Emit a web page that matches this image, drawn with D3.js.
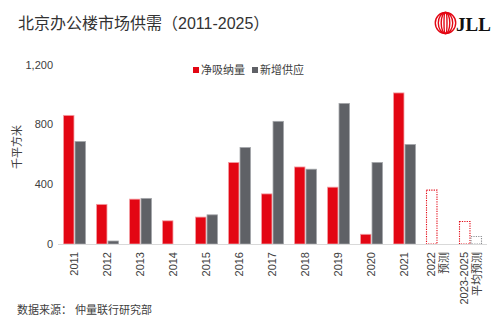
<!DOCTYPE html>
<html>
<head>
<meta charset="utf-8">
<script src="https://cdn.jsdelivr.net/npm/d3@7"></script>
<style>
  body { margin: 0; background: #fff; }
  svg { display: block; }
  text { font-family: "Liberation Sans", "Noto Sans CJK SC", sans-serif; fill: #404040; }
</style>
</head>
<body>
<div id="chart"></div>
<script>
// chart data (thousand sqm)
const categories = ["2011", "2012", "2013", "2014", "2015", "2016", "2017", "2018", "2019", "2020", "2021", "2022", "2023-2025"];
const categoryLabels = [["2011"], ["2012"], ["2013"], ["2014"], ["2015"], ["2016"], ["2017"], ["2018"], ["2019"], ["2020"], ["2021"], ["2022", "预测"], ["2023-2025", "平均预测"]];
const netAbsorption = [860, 265, 300, 155, 180, 545, 335, 515, 380, 65, 1010, 360, 150];
const newSupply = [685, 20, 305, 0, 195, 645, 820, 500, 940, 545, 665, 0, 50];
const isForecast = [false, false, false, false, false, false, false, false, false, false, false, true, true];
const seriesNames = ["净吸纳量", "新增供应"];
const yTicks = [0, 400, 800, 1200];

const width = 500;
const height = 325;
const colors = ["#e30613", "#5f6166"];
const edgeColors = ["#f3a0a5", "#a4a6aa"];

const svg = d3.select("#chart")
    .append("svg")
    .attr("width", width)
    .attr("height", height);

// Title
svg.append("text")
    .attr("x", 18)
    .attr("y", 29)
    .attr("font-size", 16)
    .style("fill", "#333")
    .text("北京办公楼市场供需（2011-2025）");

// JLL logo
const logo = svg.append("g").attr("transform", "translate(445.5,23)");
[10.2, 7.2, 4.3, 1.5].forEach(rx => {
    logo.append("ellipse")
        .attr("rx", rx)
        .attr("ry", 10.5)
        .attr("fill", "none")
        .attr("stroke", "#e30613")
        .attr("stroke-width", 1.4);
});
svg.append("text")
    .attr("x", 456)
    .attr("y", 30.5)
    .attr("font-size", 19)
    .attr("font-weight", "bold")
    .style("font-family", "'Liberation Serif', 'DejaVu Serif', serif")
    .style("fill", "#111")
    .text("JLL");

// Scales
const x = d3.scaleBand()
    .domain(categories)
    .range([58, 487]);

const xInner = d3.scaleBand()
    .domain([0, 1])
    .range([-11, 11])
    .paddingInner(0.09);

const y = d3.scaleLinear()
    .domain([0, 1200])
    .range([244, 64.5]);

// Y axis
const yAxis = svg.append("g")
    .attr("transform", "translate(53,0)")
    .call(d3.axisLeft(y).tickValues(yTicks).tickSize(0).tickPadding(0).tickFormat(d3.format(",")));
yAxis.select(".domain").remove();
yAxis.selectAll("text")
    .attr("font-size", 11)
    .style("font-family", "'Liberation Sans', sans-serif")
    .style("fill", "#404040");

svg.append("text")
    .attr("transform", "translate(21,147) rotate(-90)")
    .attr("text-anchor", "middle")
    .attr("font-size", 11)
    .text("千平方米");

// Bars
const groups = svg.append("g")
    .selectAll("g")
    .data(categories)
    .join("g")
    .attr("transform", d => `translate(${x(d) + x.bandwidth() / 2},0)`);

groups.each(function (cat, i) {
    const g = d3.select(this);
    [netAbsorption[i], newSupply[i]].forEach((v, s) => {
        if (!v) return;
        const rect = g.append("rect")
            .attr("x", xInner(s))
            .attr("width", xInner.bandwidth())
            .attr("y", y(v))
            .attr("height", y(0) - y(v));
        if (isForecast[i]) {
            rect.attr("fill", "#fff")
                .attr("stroke", s === 0 ? "#e30613" : "#8a8c90")
                .attr("stroke-width", 1.1)
                .attr("stroke-dasharray", "1.2,1.2");
        } else {
            rect.attr("fill", colors[s])
                .attr("stroke", edgeColors[s])
                .attr("stroke-width", 0.8);
        }
    });
});

// Baseline
svg.append("line")
    .attr("x1", 58)
    .attr("x2", 487)
    .attr("y1", y(0) + 0.5)
    .attr("y2", y(0) + 0.5)
    .attr("stroke", "#d9d9d9")
    .attr("stroke-width", 1);

// X labels (rotated)
const xLabels = svg.append("g")
    .selectAll("text")
    .data(categories)
    .join("text")
    .attr("transform", d => `translate(${x(d) + x.bandwidth() / 2},252) rotate(-90)`)
    .attr("text-anchor", "end")
    .attr("font-size", 11);

xLabels.each(function (d, i) {
    const lines = categoryLabels[i];
    const lineH = 13;
    const t = d3.select(this);
    lines.forEach((line, k) => {
        t.append("tspan")
            .attr("x", 0)
            .attr("y", (k - (lines.length - 1) / 2) * lineH)
            .attr("dy", "0.36em")
            .text(line);
    });
});

// Legend
const legend = svg.append("g").attr("transform", "translate(193,70)");
const legendX = [0, 59];
seriesNames.forEach((name, s) => {
    const item = legend.append("g").attr("transform", `translate(${legendX[s]},0)`);
    item.append("rect")
        .attr("x", 0)
        .attr("y", -3)
        .attr("width", 6)
        .attr("height", 6)
        .attr("fill", colors[s]);
    item.append("text")
        .attr("x", 8)
        .attr("y", 0)
        .attr("dy", "0.36em")
        .attr("font-size", 11)
        .text(name);
});

// Source
svg.append("text")
    .attr("x", 17)
    .attr("y", 314)
    .attr("font-size", 11)
    .text("数据来源： 仲量联行研究部");
</script>
</body>
</html>
